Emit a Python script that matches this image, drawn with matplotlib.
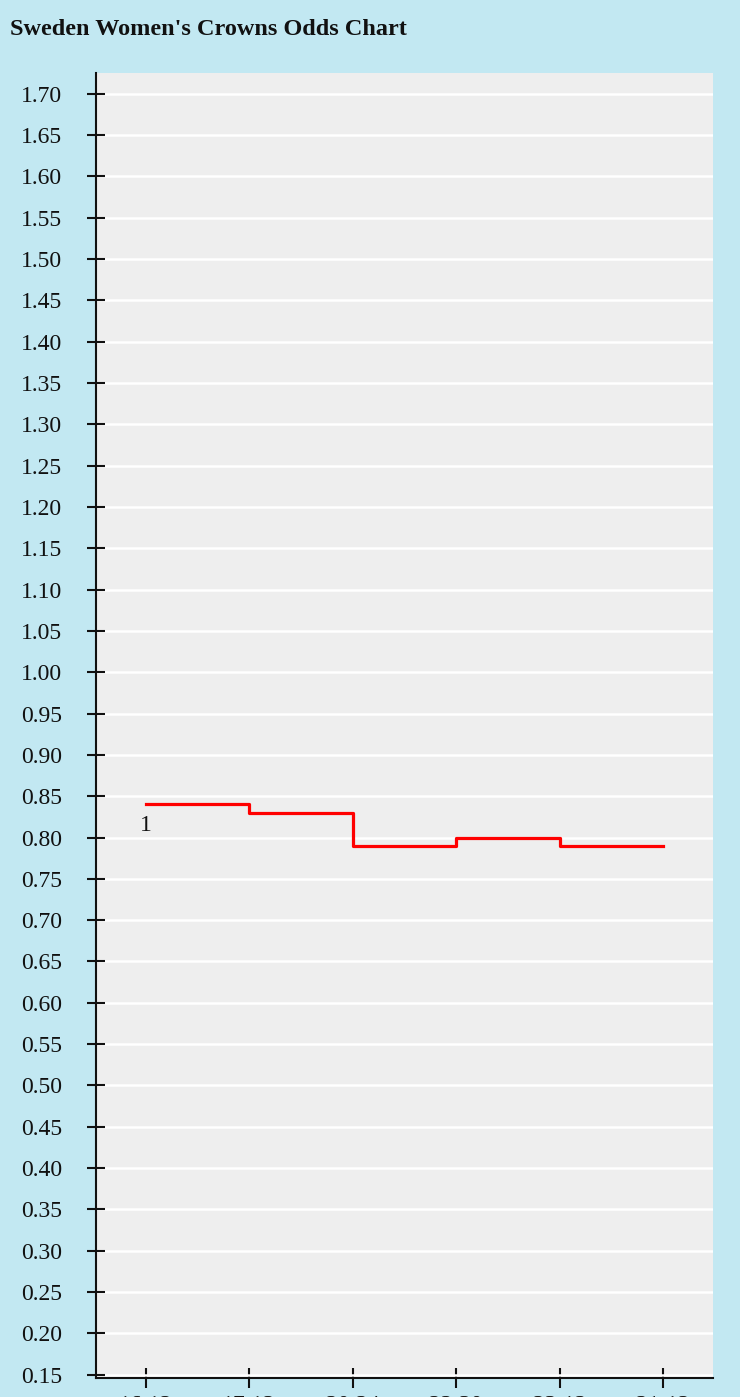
import matplotlib
matplotlib.use('Agg')
import matplotlib.pyplot as plt

# Odds data (step chart)
etiquetas_x = ['16:12', '17:12', '20:24', '22:30', '23:12', '21:12']
cuotas = [0.84, 0.83, 0.79, 0.80, 0.79, 0.79]
marca_punto = '1'
ticks_y = [round(0.15 + 0.05 * i, 2) for i in range(32)]

FONDO = '#c2e8f2'
AREA = '#eeeeee'
FUENTE = 'Liberation Serif'

fig = plt.figure(figsize=(7.4, 13.97), dpi=100, facecolor=FONDO)
ax = fig.add_axes([0.1297, 0.0136, 0.8338, 0.9341], facecolor=AREA)

xs = list(range(len(cuotas)))
ax.step(xs, cuotas, where='post', color='#ff0000', linewidth=2.3, zorder=3)
ax.text(xs[0], cuotas[0] - 0.013, marca_punto, family=FUENTE,
        fontsize=17, ha='center', va='top', color='#111111')

ax.set_xlim(-0.48, 5.48)
ax.set_ylim(0.146, 1.725)
ax.set_yticks(ticks_y)
ax.set_yticklabels([f'{v:.2f}' for v in ticks_y], family=FUENTE, fontsize=17)
ax.set_xticks(xs)
ax.set_xticklabels(etiquetas_x, family=FUENTE, fontsize=17)

ax.grid(axis='y', color='white', linewidth=1.8)
ax.set_axisbelow(True)
for lado in ['top', 'right']:
    ax.spines[lado].set_visible(False)
for lado in ['left', 'bottom']:
    ax.spines[lado].set_color('#111111')
    ax.spines[lado].set_linewidth(1.5)
ax.tick_params(axis='y', direction='inout', length=13, width=1.5, pad=18, colors='#111111')
ax.tick_params(axis='x', direction='inout', length=14, width=1.5, pad=5.5, colors='#111111')

fig.text(0.0135, 0.979, "Sweden Women's Crowns Odds Chart", family=FUENTE,
         fontsize=17.5, fontweight='bold', ha='left', va='center', color='#111111')

fig.savefig('out.png', dpi=100, facecolor=FONDO)
